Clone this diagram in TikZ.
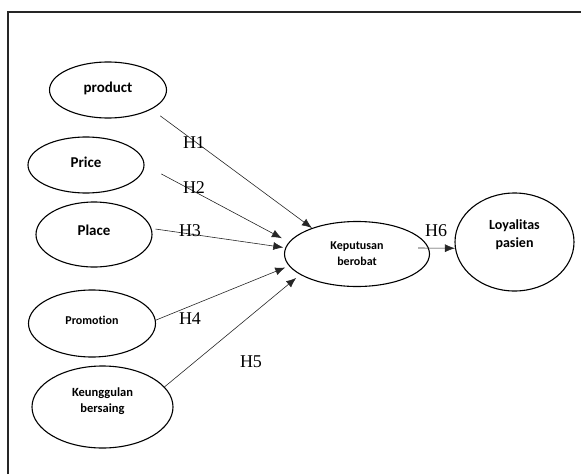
\documentclass[tikz,border=0pt]{standalone}
\usepackage{fontspec}
\setmainfont{Liberation Serif}
\newfontfamily\varfont[Ligatures=NoCommon]{Carlito}
\usetikzlibrary{shapes.geometric,arrows.meta}

\begin{document}
\begin{tikzpicture}[x=1pt, y=-1pt, >={Latex[length=10pt,width=8pt]},
		var/.style 2 args={draw, ellipse, line width=1.1pt, inner sep=0pt, align=center,
			font=\varfont\bfseries\fontsize{#1}{#2}\selectfont},
		hyp/.style={inner sep=0pt, font=\fontsize{18}{18}\selectfont},
		link/.style={->, draw=black!85, line width=0.6pt}]
	\useasboundingbox (0,0) rectangle (581,474);
	\draw[line width=1.4pt, black!85] (8,474) -- (8,12) -- (581,12);

	% marketing mix variables
	\node[var={15}{18}, minimum width=117pt, minimum height=56pt, text height=10pt, text depth=6pt] (product) at (108,90) {product};
	\node[var={15}{18}, minimum width=116pt, minimum height=56pt, text height=10pt, text depth=6pt] (price) at (86,165) {Price};
	\node[var={15}{18}, minimum width=116pt, minimum height=65pt, text height=10pt, text depth=8pt] (place) at (94,234.5) {Place};
	\node[var={12}{16}, minimum width=127pt, minimum height=67pt, text height=8pt, text depth=7pt] (promotion) at (92,323.5) {Promotion};
	\node[var={12.5}{16}, minimum width=141pt, minimum height=82pt, text depth=14pt] (keunggulan) at (102.5,407) {Keunggulan\\bersaing};
	\node[var={12}{16}, minimum width=145pt, minimum height=65pt] (keputusan) at (357,254) {Keputusan\\berobat};
	\node[var={14}{18}, minimum width=119pt, minimum height=98pt, text depth=16pt] (loyalitas) at (514.5,242) {Loyalitas\\pasien};

	\draw[link, shorten <=11pt] (product.-24) -- (keputusan.150);
	\draw[link, shorten <=19pt, shorten >=8pt] (price.east) -- (keputusan.170);
	\draw[link, shorten <=4pt, shorten >=2pt] (place.6) -- (keputusan.175);
	\draw[link, shorten >=4pt] (promotion.3) -- (keputusan.190);
	\draw[link, shorten >=5pt] (keunggulan.18) -- (keputusan.200);
	\draw[link] ([xshift=-12pt,yshift=6pt]keputusan.east) -- (loyalitas.186);

	\foreach \lbl/\px/\py in {H1/194/143, H2/194/188, H3/190/231, H4/190/319, H5/251/362, H6/436/231}
		\node[hyp] (lab\lbl) at (\px,\py) {\lbl};
\end{tikzpicture}
\end{document}
